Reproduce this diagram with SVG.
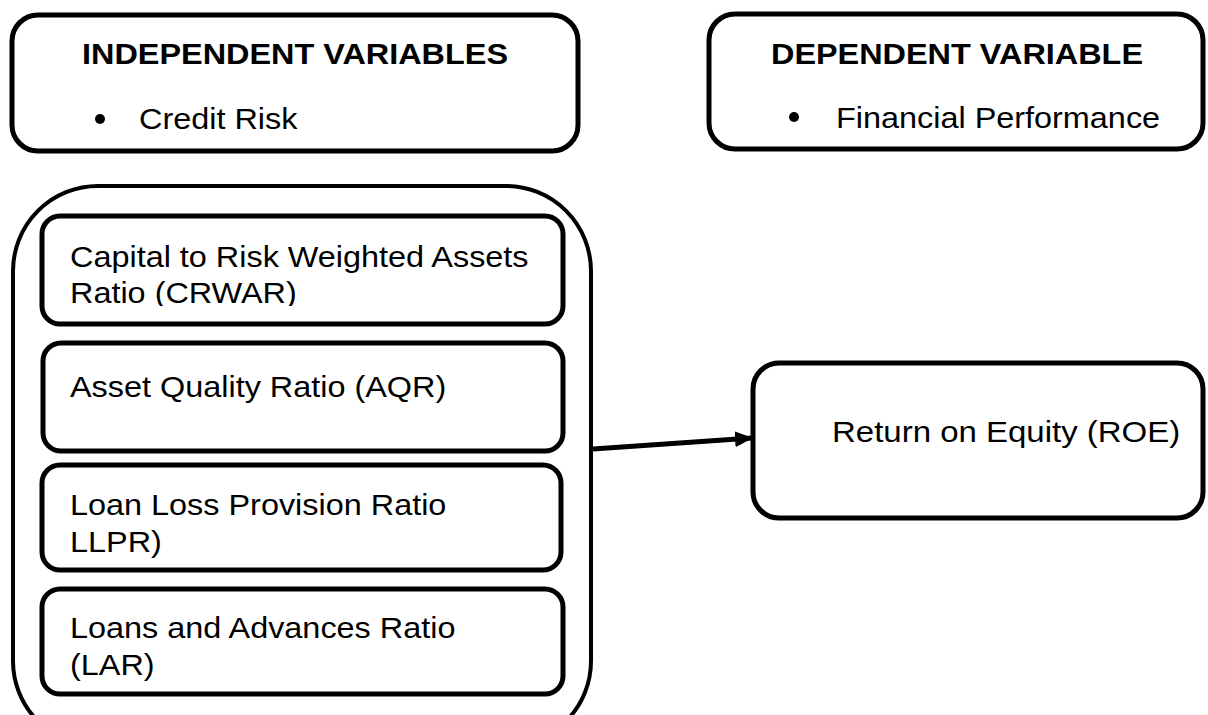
<svg xmlns="http://www.w3.org/2000/svg" width="1208" height="715" viewBox="0 0 1208 715">
<style>
.box{fill:#fff;stroke:#000;stroke-width:5}
.t{font-family:"Liberation Sans",Arial,sans-serif;font-size:30px;fill:#000}
.b{font-weight:bold;text-anchor:middle}
</style>
<defs>
<marker id="ah" markerWidth="18" markerHeight="16" refX="17" refY="8" orient="auto" markerUnits="userSpaceOnUse" viewBox="0 0 18 16">
<path d="M0,0 L18,8 L0,16 z" fill="#000"/>
</marker>
<clipPath id="cA"><rect x="42" y="215" width="521" height="91"/></clipPath>
<clipPath id="cD"><rect x="42" y="588" width="521" height="93"/></clipPath>
</defs>
<rect width="1208" height="715" fill="#fff"/>
<g id="independent">
<rect class="box" x="12" y="15" width="566" height="136" rx="26"/>
<text class="t b" transform="translate(295,64) scale(1.08,1)">INDEPENDENT VARIABLES</text>
<circle cx="100" cy="119" r="5"/>
<text class="t" transform="translate(139,129) scale(1.08,1)">Credit Risk</text>
</g>
<g id="dependent">
<rect class="box" x="709" y="14" width="494" height="135" rx="26"/>
<text class="t b" transform="translate(957,64) scale(1.08,1)">DEPENDENT VARIABLE</text>
<circle cx="794" cy="117" r="5"/>
<text class="t" transform="translate(836,128) scale(1.08,1)">Financial Performance</text>
</g>
<g id="container">
<rect x="13" y="186" width="578" height="560" rx="85" fill="#fff" stroke="#000" stroke-width="4"/>
</g>
<g id="crwar">
<rect class="box" x="42" y="216" width="521" height="108" rx="18"/>
<g clip-path="url(#cA)">
<text class="t" transform="translate(70,267) scale(1.08,1)">Capital to Risk Weighted Assets</text>
<text class="t" transform="translate(70,303) scale(1.08,1)">Ratio (CRWAR)</text>
</g>
</g>
<g id="aqr">
<rect class="box" x="43" y="343" width="520" height="108" rx="18"/>
<text class="t" transform="translate(70,397) scale(1.08,1)">Asset Quality Ratio (AQR)</text>
</g>
<g id="llpr">
<rect class="box" x="42" y="465" width="519" height="105" rx="18"/>
<text class="t" transform="translate(70,515) scale(1.08,1)">Loan Loss Provision Ratio</text>
<text class="t" transform="translate(70,552) scale(1.08,1)">LLPR)</text>
</g>
<g id="lar">
<rect class="box" x="42" y="589" width="521" height="105" rx="18"/>
<g clip-path="url(#cD)">
<text class="t" transform="translate(70,638) scale(1.08,1)">Loans and Advances Ratio</text>
<text class="t" transform="translate(70,675) scale(1.08,1)">(LAR)</text>
</g>
</g>
<g id="roe">
<rect class="box" x="753" y="363" width="450" height="155" rx="26"/>
<text class="t" transform="translate(832,442) scale(1.1,1)">Return on Equity (ROE)</text>
</g>
<g id="connectors">
<line x1="593" y1="449" x2="752" y2="438" stroke="#000" stroke-width="5" marker-end="url(#ah)"/>
</g>
</svg>
